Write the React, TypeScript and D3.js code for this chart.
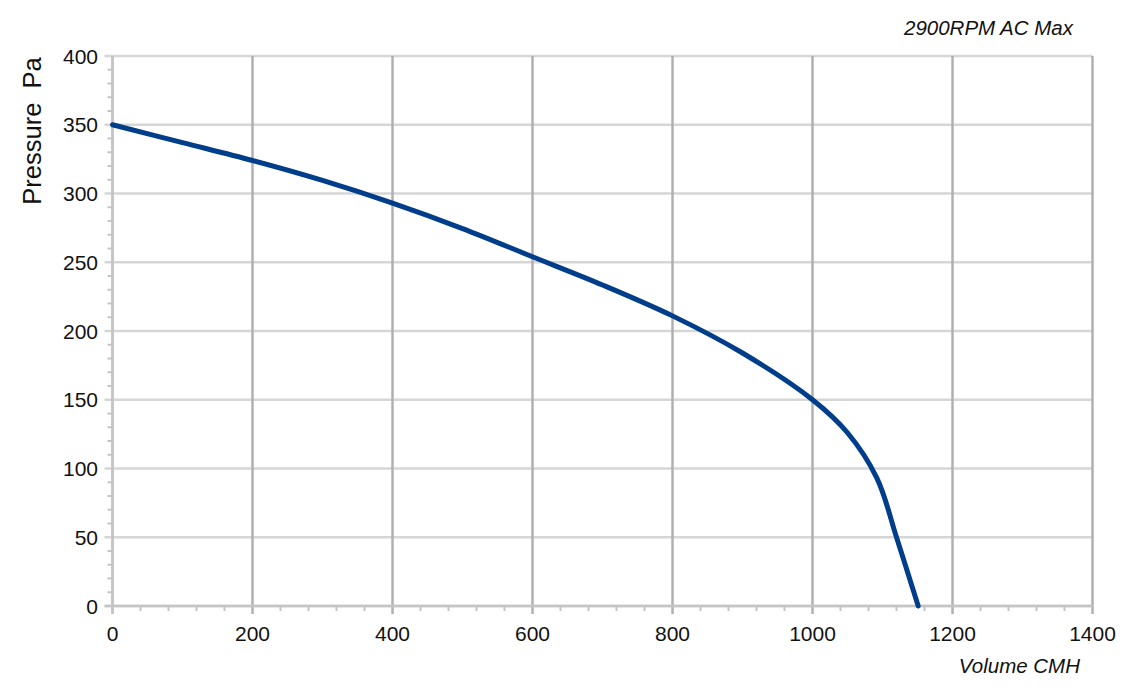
import React from "react";
import * as d3 from "d3";

const volume = [0, 100, 200, 300, 400, 500, 600, 700, 800, 900, 1000, 1050, 1092, 1120, 1151];
const pressure = [350, 337, 324, 309.5, 293, 274.5, 254, 233.5, 211, 184, 150, 126, 93, 50, 0];
const xTicks = [0, 200, 400, 600, 800, 1000, 1200, 1400];
const yTicks = [0, 50, 100, 150, 200, 250, 300, 350, 400];
const title = "2900RPM AC Max";
const xLabel = "Volume CMH";
const yLabel = "Pressure  Pa";

const W = 1137;
const H = 692;

export default function App() {
  const x = d3.scaleLinear().domain([0, 1400]).range([112.5, 1092.5]);
  const y = d3.scaleLinear().domain([0, 400]).range([606, 56]);
  const pts: [number, number][] = volume.map((v, i) => [v, pressure[i]]);
  const line = d3
    .line<[number, number]>()
    .x((d) => x(d[0]))
    .y((d) => y(d[1]))
    .curve(d3.curveCatmullRom.alpha(0.5));

  const xMinor: number[] = [];
  for (let v = 0; v <= 1400; v += 40) if (v % 200 !== 0) xMinor.push(v);
  const yMinor: number[] = [];
  for (let v = 0; v <= 400; v += 10) if (v % 50 !== 0) yMinor.push(v);

  const font = "'Liberation Sans', Arial, sans-serif";
  const x0 = x(0);
  const y0 = y(0);

  return (
    <svg
      width={W}
      height={H}
      style={{ position: "absolute", left: 0, top: 0, background: "#fff" }}
      fontFamily={font}
    >
      {/* horizontal gridlines */}
      {yTicks.map((t) => (
        <line key={"hg" + t} x1={x0 - 8} x2={x(1400)} y1={y(t)} y2={y(t)} stroke="#d6d6d6" strokeWidth={2.5} />
      ))}
      {/* vertical gridlines */}
      {xTicks.map((t) => (
        <line key={"vg" + t} x1={x(t)} x2={x(t)} y1={y(400)} y2={y0 + 8} stroke={t === 0 ? "#c4c4c4" : "#b0b0b0"} strokeWidth={2.5} />
      ))}
      {/* minor ticks */}
      {xMinor.map((t) => (
        <line key={"xm" + t} x1={x(t)} x2={x(t)} y1={y0} y2={y0 + 5} stroke="#c4c4c4" strokeWidth={2} />
      ))}
      {yMinor.map((t) => (
        <line key={"ym" + t} x1={x0 - 5} x2={x0} y1={y(t)} y2={y(t)} stroke="#c4c4c4" strokeWidth={2} />
      ))}
      {/* axes */}
      <line x1={x0} x2={x0} y1={y(400)} y2={y0 + 8} stroke="#c4c4c4" strokeWidth={2.5} />
      <line x1={x0 - 8} x2={x(1400)} y1={y0} y2={y0} stroke="#c4c4c4" strokeWidth={2.5} />

      {/* curve */}
      <path d={line(pts) || ""} fill="none" stroke="#003d8a" strokeWidth={5} strokeLinecap="round" strokeLinejoin="round" />

      {/* tick labels */}
      {yTicks.map((t) => (
        <text key={"yl" + t} x={98} y={y(t) + 7.5} textAnchor="end" fontSize={21} fill="#111">
          {t}
        </text>
      ))}
      {xTicks.map((t) => (
        <text key={"xl" + t} x={x(t)} y={640.5} textAnchor="middle" fontSize={21} fill="#111">
          {t}
        </text>
      ))}

      {/* titles */}
      <text x={1073} y={34.5} textAnchor="end" fontSize={20.5} fontStyle="italic" fill="#111">
        {title}
      </text>
      <text x={1080} y={673} textAnchor="end" fontSize={20.5} fontStyle="italic" fill="#111">
        {xLabel}
      </text>
      <text
        transform={`translate(41, 131) rotate(-90)`}
        textAnchor="middle"
        fontSize={25.5}
        fill="#111"
        style={{ whiteSpace: "pre" }}
      >
        {yLabel}
      </text>
    </svg>
  );
}
